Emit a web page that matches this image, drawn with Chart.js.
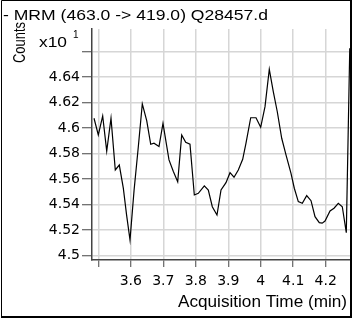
<!DOCTYPE html>
<html>
<head>
<meta charset="utf-8">
<script src="https://cdn.jsdelivr.net/npm/chart.js@4.4.1/dist/chart.umd.min.js"></script>
<style>
  html, body { margin: 0; padding: 0; background: #fff; }
  #wrap { width: 354px; height: 322px; position: relative; }
</style>
</head>
<body>
<div id="wrap"><canvas id="chart"></canvas></div>
<script>
// Chart texts
const chartTitle = "- MRM (463.0 -> 419.0) Q28457.d";
const xTitle = "Acquisition Time (min)";
const yTitle = "Counts";
const yExponent = "x10";
const yExponentPow = "1";

// Data (time in min, counts x10^1)
const times = [3.4868, 3.5, 3.5135, 3.5259, 3.5391, 3.5523, 3.5646, 3.577, 3.587, 3.5976,
               3.61, 3.623, 3.6354, 3.649, 3.6613, 3.6714, 3.6868, 3.6991, 3.7176, 3.731,
               3.7444, 3.7567, 3.769, 3.7822, 3.7955, 3.8078, 3.8263, 3.8386, 3.8509, 3.8653,
               3.8777, 3.893, 3.9054, 3.9177, 3.9309, 3.9444, 3.9546, 3.9691, 3.9854, 3.9998,
               4.0131, 4.0263, 4.0386, 4.0509, 4.0645, 4.0777, 4.0931, 4.1033, 4.1156, 4.1279,
               4.1414, 4.1547, 4.167, 4.1802, 4.189, 4.1978, 4.2132, 4.2255, 4.2387, 4.251,
               4.2633, 4.274];
const counts = [4.6078, 4.5947, 4.6096, 4.5821, 4.6078, 4.5672, 4.5711, 4.553, 4.532, 4.5123,
                4.551, 4.585, 4.619, 4.6059, 4.5874, 4.5882, 4.5856, 4.6038, 4.5751, 4.566,
                4.558, 4.5947, 4.5889, 4.5874, 4.5476, 4.5489, 4.5547, 4.5515, 4.5384, 4.5319,
                4.5515, 4.5573, 4.5651, 4.5615, 4.5672, 4.5756, 4.5882, 4.6082, 4.6082, 4.6007,
                4.6169, 4.6462, 4.6286, 4.6129, 4.5921, 4.579, 4.5646, 4.5529, 4.5424, 4.5411,
                4.5471, 4.5431, 4.5306, 4.5259, 4.5255, 4.5272, 4.5351, 4.5372, 4.5411, 4.5384,
                4.518, 4.6627];

// Ticks
const xTicks = [3.5, 3.6, 3.7, 3.8, 3.9, 4.0, 4.1, 4.2];
const xLabels = ["", "3.6", "3.7", "3.8", "3.9", "4", "4.1", "4.2"];
const yTicks = [4.5, 4.52, 4.54, 4.56, 4.58, 4.6, 4.62, 4.64, 4.66];
const yLabels = ["4.5", "4.52", "4.54", "4.56", "4.58", "4.6", "4.62", "4.64", ""];

const xMin = 3.4806, xMax = 4.2747;
const yMin = 4.4966, yMax = 4.6778;

//draws text stretched to a given width
function stretchText(ctx, text, x, y, font, width, align){
    ctx.save();
    ctx.font = font;
    var w = ctx.measureText(text).width;
    ctx.translate(x, y);
    ctx.scale(width / w, 1);
    ctx.textAlign = align;
    ctx.textBaseline = "alphabetic";
    ctx.fillText(text, 0, 0);
    ctx.restore();
}

const decorations = {
    id: 'decorations',
    afterDraw(chart){
        const ctx = chart.ctx;
        ctx.save();
        ctx.fillStyle = "#000";

        stretchText(ctx, chartTitle, 3, 20, "15px 'Liberation Sans', Arial", 265, "left");
        stretchText(ctx, xTitle, 347, 307, "16px 'Liberation Sans', Arial", 169, "right");
        stretchText(ctx, yExponent, 39, 47, "14px 'Liberation Sans', Arial", 28, "left");
        ctx.font = "10px 'Liberation Sans', Arial";
        ctx.textAlign = "left";
        ctx.fillText(yExponentPow, 73, 38);

        // rotated y title
        ctx.save();
        ctx.font = "16px 'Liberation Sans', Arial";
        var w = ctx.measureText(yTitle).width;
        ctx.translate(25, 63);
        ctx.rotate(-Math.PI / 2);
        ctx.scale(41 / w, 1.05);
        ctx.textAlign = "left";
        ctx.fillText(yTitle, 0, 0);
        ctx.restore();

        // frame
        ctx.strokeStyle = "#000";
        ctx.lineWidth = 1;
        ctx.beginPath();
        ctx.moveTo(1.5, 317); ctx.lineTo(1.5, 0.5); ctx.lineTo(351, 0.5);
        ctx.stroke();
        ctx.lineWidth = 2;
        ctx.beginPath();
        ctx.moveTo(351, 0); ctx.lineTo(351, 317); ctx.lineTo(1, 317);
        ctx.stroke();
        ctx.restore();
    }
};

const config = {
    type: 'line',
    data: {
        datasets: [{
            data: times.map((t, i) => ({x: t, y: counts[i]})),
            borderColor: '#000',
            borderWidth: 1.2,
            pointRadius: 0,
            tension: 0,
            fill: false
        }]
    },
    options: {
        responsive: true,
        maintainAspectRatio: false,
        animation: false,
        events: [],
        layout: { padding: { top: 29, right: 4, left: 0, bottom: 0 } },
        plugins: {
            legend: { display: false },
            tooltip: { enabled: false }
        },
        scales: {
            x: {
                type: 'linear',
                min: xMin,
                max: xMax,
                afterBuildTicks: function(scale){ scale.ticks = xTicks.map(v => ({value: v})); },
                afterFit: function(scale){ scale.height = 62; },
                ticks: {
                    autoSkip: false,
                    maxRotation: 0,
                    padding: 6,
                    color: '#000',
                    font: { family: "'DejaVu Sans'", size: 14 },
                    callback: function(value, index){ return xLabels[index]; }
                },
                grid: { color: '#d6d6d6', lineWidth: 1.5, tickLength: 7, tickColor: '#444', tickWidth: 1 },
                border: { color: '#444', width: 1.5 }
            },
            y: {
                type: 'linear',
                min: yMin,
                max: yMax,
                afterBuildTicks: function(scale){ scale.ticks = yTicks.map(v => ({value: v})); },
                afterFit: function(scale){ scale.width = 92; },
                ticks: {
                    padding: 2,
                    color: '#000',
                    font: { family: "'DejaVu Sans'", size: 14 },
                    callback: function(value, index){ return yLabels[index]; }
                },
                grid: { color: '#d6d6d6', lineWidth: 1.5, tickLength: 10, tickColor: '#444', tickWidth: 1 },
                border: { color: '#444', width: 1.5 }
            }
        }
    },
    plugins: [decorations]
};

var PSF = new Chart(document.getElementById("chart").getContext("2d"), config);
</script>
</body>
</html>
